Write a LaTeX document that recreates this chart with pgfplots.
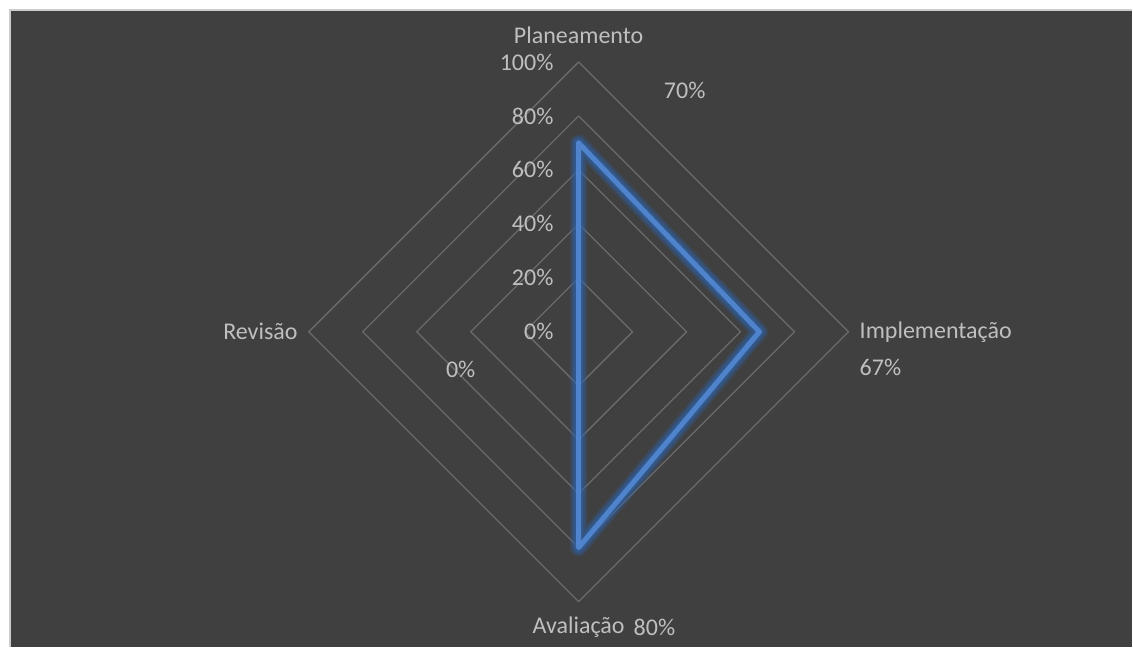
\documentclass[border=0pt]{standalone}
\usepackage{pgfplots}
\pgfplotsset{compat=1.18}
\usepackage{fontspec}
\setmainfont{Carlito}
\definecolor{bgdark}{HTML}{404040}
\definecolor{gridc}{HTML}{6B6B6B}
\definecolor{txtc}{HTML}{BFBFBF}
\definecolor{serblue}{HTML}{4F84CC}
\definecolor{glowblue}{HTML}{2F62A8}
\pgfplotstableread{
x y
0 70
67 0
0 -80
0 0
0 70
}\series
\begin{document}
\begin{tikzpicture}
\fill[white] (0,0) rectangle (1133pt,647pt);
\fill[bgdark] (10pt,0) rectangle (1133pt,637pt);
\draw[black!20,line width=1.5pt] (10pt,0) -- (10pt,637pt) -- (1133pt,637pt);
\begin{axis}[
  at={(0,0)}, anchor=south west,
  scale only axis, width=1133pt, height=647pt,
  xmin=-214.444, xmax=205.185, ymin=-116.667, ymax=122.963,
  axis lines=none, clip=false,
  font=\fontsize{24}{29}\selectfont,
]
% grid diamonds
\addplot[gridc, line width=1.3pt] coordinates {(0,20) (20,0) (0,-20) (-20,0) (0,20)};
\addplot[gridc, line width=1.3pt] coordinates {(0,40) (40,0) (0,-40) (-40,0) (0,40)};
\addplot[gridc, line width=1.3pt] coordinates {(0,60) (60,0) (0,-60) (-60,0) (0,60)};
\addplot[gridc, line width=1.3pt] coordinates {(0,80) (80,0) (0,-80) (-80,0) (0,80)};
\addplot[gridc, line width=1.3pt] coordinates {(0,100) (100,0) (0,-100) (-100,0) (0,100)};
% glow
\addplot[glowblue, opacity=0.25, line width=17pt, line join=round, line cap=round] table {\series};
\addplot[glowblue, opacity=0.35, line width=13pt, line join=round, line cap=round] table {\series};
\addplot[glowblue, opacity=0.45, line width=9pt, line join=round, line cap=round] table {\series};
\addplot[serblue, line width=5pt, line join=round, line cap=round] table {\series};
% tick labels
\foreach \v in {0,20,40,60,80,100} {
  \edef\temp{\noexpand\node[txtc, anchor=east, inner sep=0pt] at (axis cs:-9.26,\v) {\v\noexpand\%};}
  \temp
}
% category labels
\node[txtc, inner sep=0pt] at (axis cs:0,110) {Planeamento};
\node[txtc, anchor=west, inner sep=0pt] at (axis cs:104.1,0) {Implementação};
\node[txtc, inner sep=0pt] at (axis cs:0,-109.6) {Avaliação};
\node[txtc, anchor=east, inner sep=0pt] at (axis cs:-104.1,0) {Revisão};
% data labels
\node[txtc, inner sep=0pt] at (axis cs:39.3,89.3) {70\%};
\node[txtc, anchor=west, inner sep=0pt] at (axis cs:104.1,-13.3) {67\%};
\node[txtc, inner sep=0pt] at (axis cs:28.1,-109.6) {80\%};
\node[txtc, inner sep=0pt] at (axis cs:-43.7,-14.1) {0\%};
\end{axis}
\end{tikzpicture}
\end{document}
